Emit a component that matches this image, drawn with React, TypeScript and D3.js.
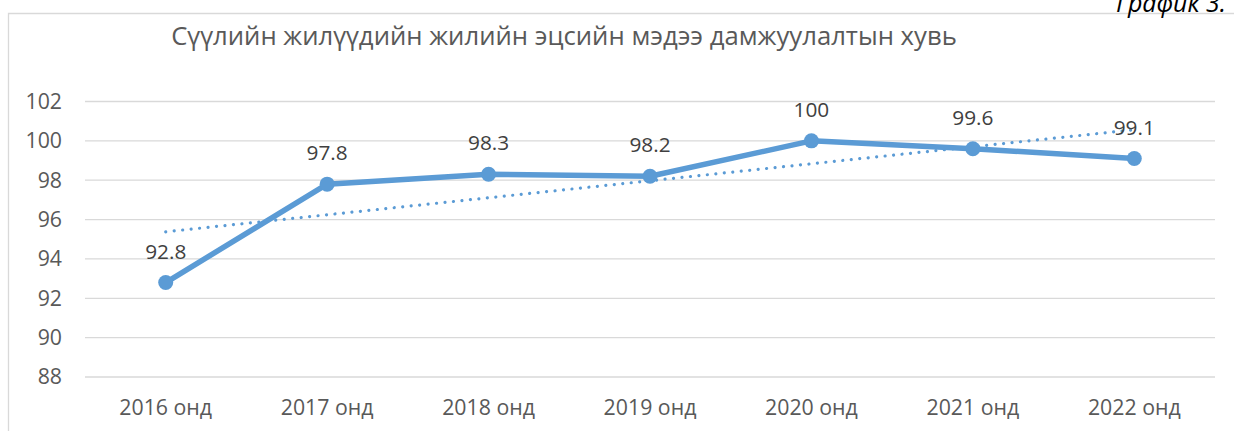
import React from "react";
import * as d3 from "d3";

const categories = ["2016 онд", "2017 онд", "2018 онд", "2019 онд", "2020 онд", "2021 онд", "2022 онд"];
const values = [92.8, 97.8, 98.3, 98.2, 100, 99.6, 99.1];
const yTicks = [88, 90, 92, 94, 96, 98, 100, 102];
const title = "Сүүлийн жилүүдийн жилийн эцсийн мэдээ дамжуулалтын хувь";
const caption = "График 3.";

const W = 1234;
const H = 431;
const FONT = "'Open Sans', sans-serif";
const BLUE = "#5B9BD5";

export default function App() {
  const x = d3.scaleBand<string>().domain(categories).range([85, 1215]);
  const y = d3.scaleLinear().domain([88, 102]).range([377, 101.5]);
  const cx = (c: string) => (x(c) ?? 0) + x.bandwidth() / 2;

  const pts: [number, number][] = values.map((v, i) => [cx(categories[i]), y(v)]);
  const line = d3.line<[number, number]>().x((d) => d[0]).y((d) => d[1]);

  // linear trend (least squares)
  const n = values.length;
  const mx = d3.mean(d3.range(n)) as number;
  const my = d3.mean(values) as number;
  const slope =
    d3.sum(values.map((v, i) => (i - mx) * (v - my))) / d3.sum(d3.range(n).map((i) => (i - mx) ** 2));
  const intercept = my - slope * mx;
  const trend: [number, number][] = [0, n - 1].map((i) => [cx(categories[i]), y(intercept + slope * i)]);

  return (
    <svg
      width={W}
      height={H}
      style={{ position: "absolute", left: 0, top: 0, background: "#fff" }}
      fontFamily={FONT}
    >
      <rect x={0} y={0} width={W} height={H} fill="#fff" />
      <path d={`M8.5,${H} V13.5 H${W}`} fill="none" stroke="#D9D9D9" strokeWidth={1.3} />
      <text x={1226} y={12} textAnchor="end" fontSize={25} fontStyle="italic" fill="#000">
        {caption}
      </text>
      <text x={564} y={45} textAnchor="middle" fontSize={25.7} fill="#595959">
        {title}
      </text>
      {yTicks.map((t) => (
        <g key={t}>
          <line x1={85} x2={1215} y1={y(t)} y2={y(t)} stroke="#D9D9D9" strokeWidth={1.3} />
          <text x={62} y={y(t)} dy="0.35em" textAnchor="end" fontSize={21.3} fill="#595959">
            {t}
          </text>
        </g>
      ))}
      {categories.map((c) => (
        <text key={c} x={cx(c)} y={415} textAnchor="middle" fontSize={21.3} fill="#595959">
          {c}
        </text>
      ))}
      <path
        d={line(trend) ?? ""}
        fill="none"
        stroke={BLUE}
        strokeWidth={3.2}
        strokeLinecap="round"
        strokeDasharray="0.01 8.5"
      />
      <path d={line(pts) ?? ""} fill="none" stroke={BLUE} strokeWidth={5.5} strokeLinejoin="round" />
      {pts.map((p, i) => (
        <circle key={i} cx={p[0]} cy={p[1]} r={7.5} fill={BLUE} />
      ))}
      {pts.map((p, i) => (
        <text key={"l" + i} x={p[0]} y={p[1] - 24} textAnchor="middle" fontSize={20.8} fill="#404040">
          {values[i]}
        </text>
      ))}
    </svg>
  );
}
